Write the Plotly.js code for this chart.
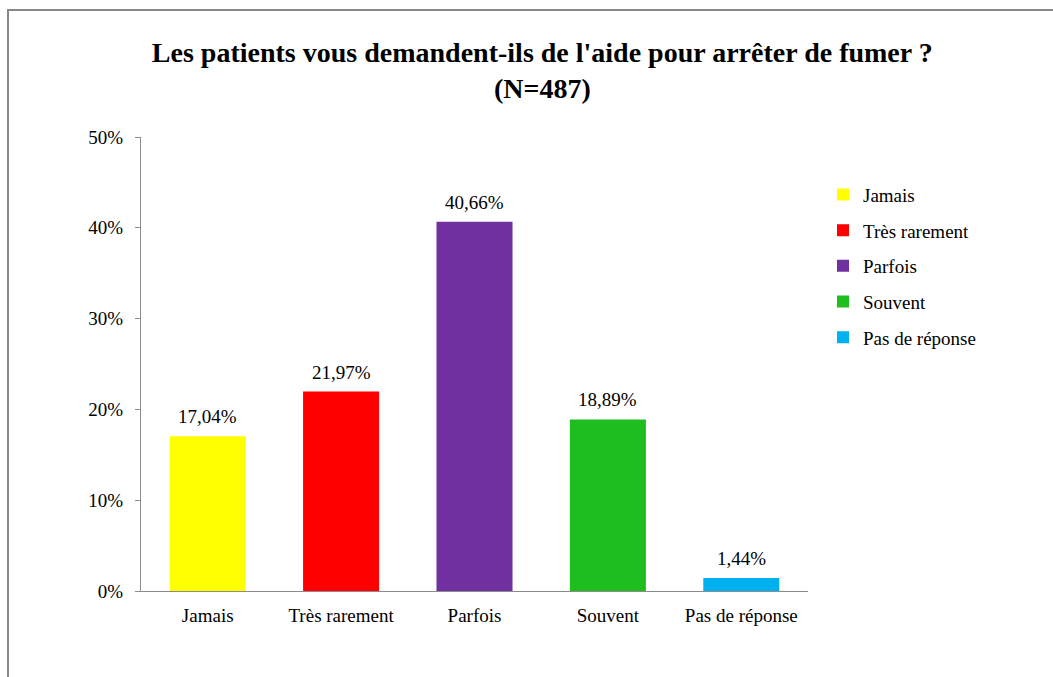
<!DOCTYPE html>
<html>
<head>
<meta charset="utf-8">
<script src="https://cdn.plot.ly/plotly-3.0.1.min.js"></script>
<style>html,body{margin:0;padding:0;background:#fff;}#chart{width:1053px;height:677px;}</style>
</head>
<body>
<div id="chart"></div>
<script>
const categories = ["Jamais", "Très rarement", "Parfois", "Souvent", "Pas de réponse"];
const percentages = [17.04, 21.97, 40.66, 18.89, 1.44];
const colors = ["#FFFF00", "#FF0000", "#7030A0", "#1EBE1E", "#00B0F0"];
const yTicks = [0, 10, 20, 30, 40, 50];

const font = "Liberation Serif, Times New Roman, serif";
const fs = 19;

const traces = categories.map((c, i) => ({
  type: "bar",
  name: c,
  legendgroup: "g" + i,
  x: [c],
  y: [percentages[i]],
  width: 0.57,
  marker: {color: colors[i]},
  hoverinfo: "skip"
}));

const labels = categories.map((c, i) => ({
  x: c, y: percentages[i], xref: "x", yref: "y",
  text: percentages[i].toFixed(2).replace(".", ",") + "%",
  showarrow: false, yanchor: "bottom", xanchor: "center", yshift: 7,
  font: {family: font, size: fs, color: "#000"}
}));

const layout = {
  width: 1053, height: 677,
  margin: {l: 141, r: 245, t: 137, b: 86},
  paper_bgcolor: "#fff", plot_bgcolor: "#fff",
  separators: ", ",
  barmode: "overlay",
  font: {family: font, size: fs, color: "#000"},
  title: {
    text: "<b>Les patients vous demandent-ils de l'aide pour arrêter de fumer ?<br>(N=487)</b>",
    x: 0.515, xanchor: "center", xref: "container",
    y: 0.909, yanchor: "middle", yref: "container",
    font: {family: font, size: 28, color: "#000"}
  },
  xaxis: {
    type: "category",
    categoryorder: "array", categoryarray: categories,
    showline: true, linecolor: "#8c8c8c", linewidth: 1,
    ticks: "", showgrid: false, zeroline: false,
    ticklabelstandoff: 7,
    tickfont: {family: font, size: fs, color: "#000"}
  },
  yaxis: {
    range: [0, 50],
    tickvals: yTicks,
    ticktext: yTicks.map(v => v + "%"),
    showline: true, linecolor: "#8c8c8c", linewidth: 1,
    ticks: "outside", ticklen: 5, tickcolor: "#8c8c8c",
    ticklabelstandoff: 8,
    showgrid: false, zeroline: false,
    tickfont: {family: font, size: fs, color: "#000"}
  },
  legend: {
    x: 1.0225, xanchor: "left",
    y: 0.915, yanchor: "top",
    traceorder: "grouped",
    tracegroupgap: 8,
    font: {family: font, size: fs, color: "#000"},
    bgcolor: "rgba(0,0,0,0)"
  },
  showlegend: true,
  annotations: labels,
  shapes: [{
    type: "rect", xref: "paper", yref: "paper",
    x0: -0.1994, x1: 1.6, y0: -0.5, y1: 1.2797,
    line: {color: "#888888", width: 2},
    fillcolor: "rgba(0,0,0,0)",
    layer: "above"
  }]
};

Plotly.newPlot("chart", traces, layout, {displayModeBar: false, staticPlot: true});
</script>
</body>
</html>
